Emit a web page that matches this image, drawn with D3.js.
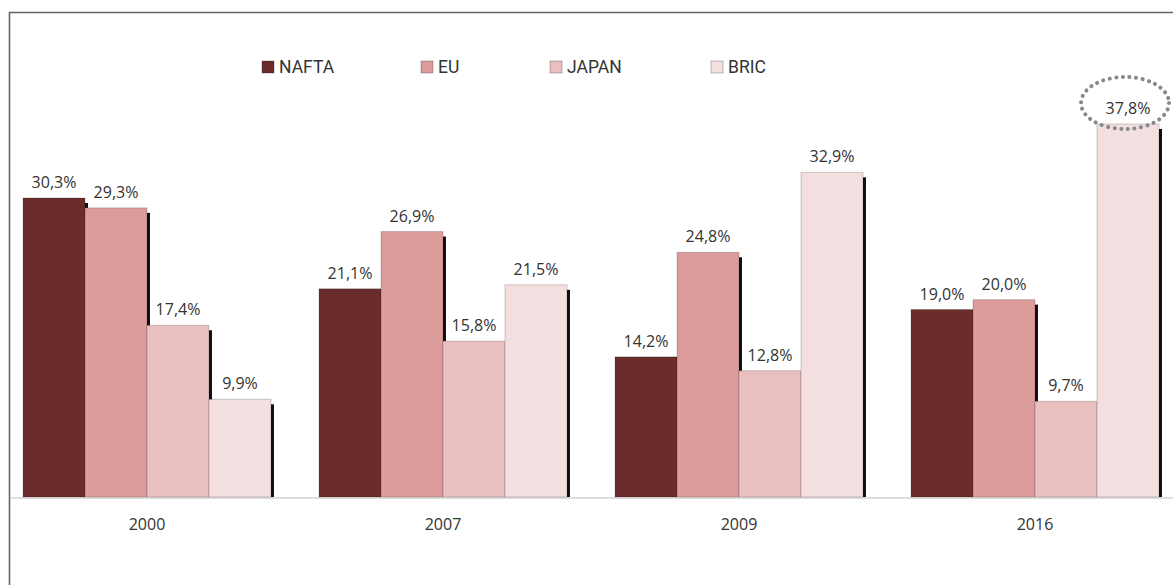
<!DOCTYPE html>
<html>
<head>
<meta charset="utf-8">
<script src="https://cdn.jsdelivr.net/npm/d3@7"></script>
<style>
  body { margin: 0; background: #fff; }
  text { font-family: "Open Sans", "Noto Sans", sans-serif; fill: #333; }
</style>
</head>
<body>
<script>
// data
const years = ["2000", "2007", "2009", "2016"];
const regions = ["NAFTA", "EU", "JAPAN", "BRIC"];
const nafta = [30.3, 21.1, 14.2, 19.0];
const eu = [29.3, 26.9, 24.8, 20.0];
const japan = [17.4, 15.8, 12.8, 9.7];
const bric = [9.9, 21.5, 32.9, 37.8];
const colors = ["#6b2c2c", "#dc9c9c", "#eabfbf", "#f3dfdf"];

const w = 1173;
const h = 585;
const baseY = 497;

const series = [nafta, eu, japan, bric];
const rows = [];
years.forEach(function(year, i) {
  regions.forEach(function(reg, j) {
    rows.push({year: year, region: reg, value: series[j][i], k: j});
  });
});

const svg = d3.select("body").append("svg")
  .attr("width", w)
  .attr("height", h);

// frame (top + left)
svg.append("path")
  .attr("d", "M9.5," + h + " L9.5,12.5 L" + w + ",12.5")
  .attr("fill", "none")
  .attr("stroke", "#666")
  .attr("stroke-width", 1.6);

const x0 = d3.scaleBand()
  .domain(years)
  .range([23, 1159])
  .paddingInner(48 / 296)
  .paddingOuter(0);

const x1 = d3.scaleBand()
  .domain(regions)
  .range([0, x0.bandwidth()]);

const y = d3.scaleLinear()
  .domain([0, 30.3])
  .range([baseY, 198]);

// baseline
svg.append("line")
  .attr("x1", 10).attr("x2", w)
  .attr("y1", baseY + 1).attr("y2", baseY + 1)
  .attr("stroke", "#ddd")
  .attr("stroke-width", 2);

const groups = svg.selectAll("g.grp")
  .data(years)
  .enter().append("g")
  .attr("class", "grp")
  .attr("transform", function(d) { return "translate(" + x0(d) + ",0)"; });

// shadows first, so next bar covers them
groups.selectAll("rect.shadow")
  .data(function(d) { return rows.filter(function(r) { return r.year == d; }); })
  .enter().append("rect")
  .attr("class", "shadow")
  .attr("x", function(d) { return x1(d.region) + x1.bandwidth(); })
  .attr("y", function(d) { return y(d.value) + 5; })
  .attr("width", 3)
  .attr("height", function(d) { return baseY - y(d.value) - 5; })
  .attr("fill", "#111");

groups.selectAll("rect.bar")
  .data(function(d) { return rows.filter(function(r) { return r.year == d; }); })
  .enter().append("rect")
  .attr("class", "bar")
  .attr("x", function(d) { return x1(d.region); })
  .attr("y", function(d) { return y(d.value); })
  .attr("width", x1.bandwidth())
  .attr("height", function(d) { return baseY - y(d.value); })
  .attr("fill", function(d) { return colors[d.k]; })
  .attr("stroke", "rgba(0,0,0,0.18)")
  .attr("stroke-width", 1);

groups.selectAll("text.lbl")
  .data(function(d) { return rows.filter(function(r) { return r.year == d; }); })
  .enter().append("text")
  .attr("class", "lbl")
  .attr("x", function(d) { return x1(d.region) + x1.bandwidth() / 2; })
  .attr("y", function(d) { return y(d.value) - 10; })
  .attr("text-anchor", "middle")
  .style("font-size", "16px")
  .text(function(d) { return d.value.toFixed(1).replace(".", ",") + "%"; });

// x axis labels
const xAxis = d3.axisBottom(x0).tickSize(0).tickPadding(22);
const ax = svg.append("g")
  .attr("transform", "translate(0," + baseY + ")")
  .call(xAxis);
ax.select(".domain").remove();
ax.selectAll("text")
  .style("font-size", "16px")
  .style("font-family", "'Open Sans', sans-serif")
  .attr("fill", "#333");

// dotted highlight on the last BRIC value
const last = rows[rows.length - 1];
svg.append("ellipse")
  .attr("cx", x0(last.year) + x1(last.region) + x1.bandwidth() / 2 - 3)
  .attr("cy", y(last.value) - 21)
  .attr("rx", 44)
  .attr("ry", 26)
  .attr("fill", "none")
  .attr("stroke", "#888")
  .attr("stroke-width", 4)
  .attr("stroke-linecap", "round")
  .attr("stroke-dasharray", "0.1,6.5");

// legend
const legendX = [262, 421, 550, 711];
const leg = svg.selectAll("g.leg")
  .data(regions)
  .enter().append("g")
  .attr("class", "leg")
  .attr("transform", function(d, i) { return "translate(" + legendX[i] + ",61)"; });

leg.append("rect")
  .attr("width", 12)
  .attr("height", 12)
  .attr("fill", function(d, i) { return colors[i]; })
  .attr("stroke", "rgba(0,0,0,0.25)");

leg.append("text")
  .attr("x", 17)
  .attr("y", 12)
  .style("font-size", "17.5px")
  .style("font-family", "Roboto, 'Liberation Sans', sans-serif")
  .text(function(d) { return d; });
</script>
</body>
</html>
